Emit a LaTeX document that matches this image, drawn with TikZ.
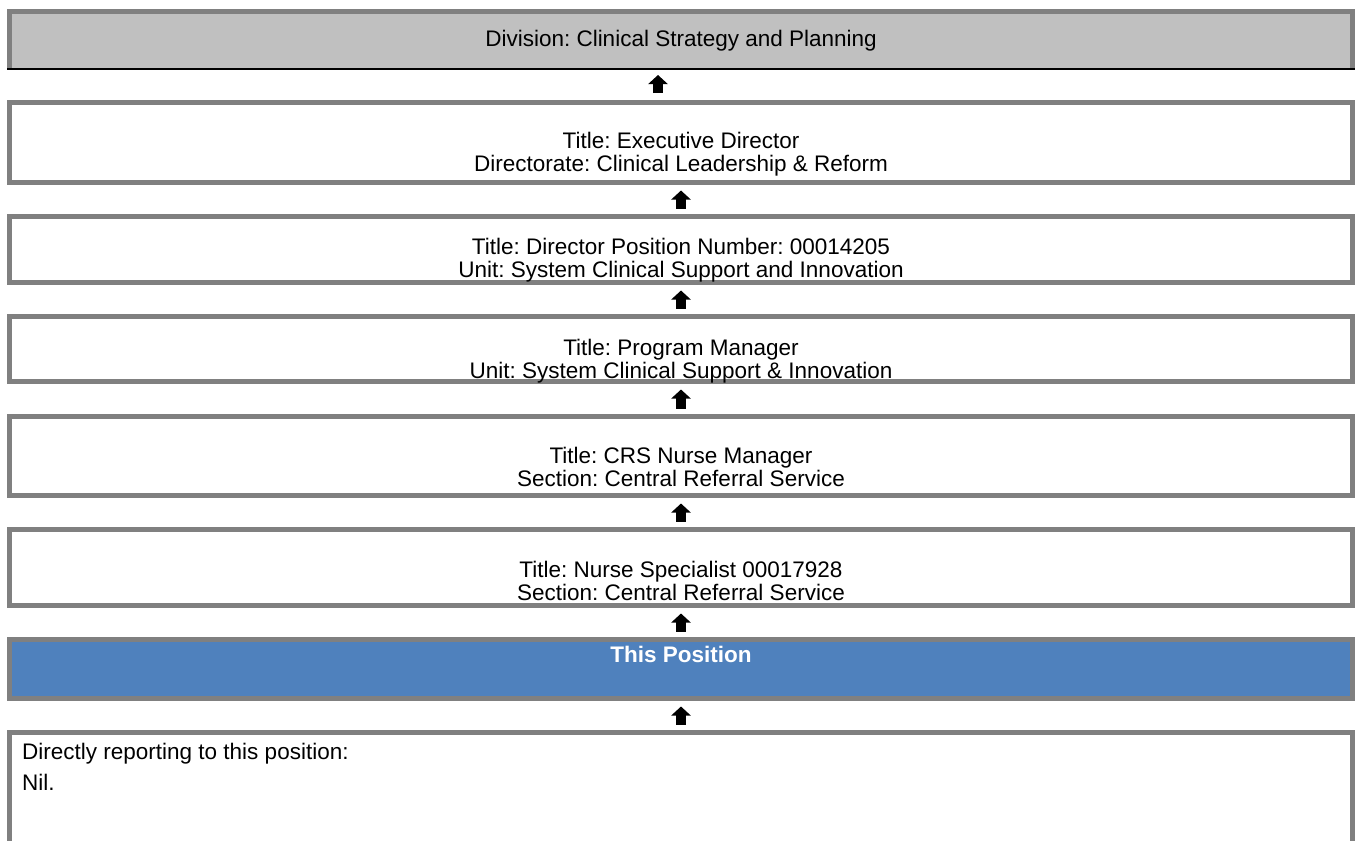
\documentclass[tikz,border=0pt]{standalone}
\usepackage{fontspec}
\setmainfont{Liberation Sans}
\usetikzlibrary{arrows.meta}
\definecolor{FrameGray}{HTML}{808080}
\definecolor{HeadGray}{HTML}{C0C0C0}
\definecolor{PosBlue}{HTML}{4F81BD}

\begin{document}
\frenchspacing
\begin{tikzpicture}[
  x=1pt, y=-1pt,
  box/.style={rectangle, draw=FrameGray, line width=5pt, fill=white,
    minimum width=1343pt, inner sep=0pt},
  txt/.style={align=center, font=\fontsize{22.5}{22.5}\selectfont, inner sep=0pt},
  uparr/.style={-{Triangle[width=19pt, length=9pt]}, line width=9.5pt,
    shorten <=5.5pt, shorten >=5.5pt}
]
  \clip (0,0) rectangle (1358,841);

  % division header: grey sides, black rule underneath
  \node[rectangle, fill=HeadGray, minimum width=1343pt, minimum height=57.5pt,
    inner sep=0pt, outer sep=0pt] (div) at (681,40.25) {};
  \draw[FrameGray, line width=5pt] (div.south west) -- (div.north west)
    -- (div.north east) -- (div.south east);
  \draw[black, line width=2pt] ([xshift=-2.5pt]div.south west) -- ([xshift=2.5pt]div.south east);
  \node[txt] (divtxt) at (681,41) {Division: Clinical Strategy and Planning};

  % reporting line
  \node[box, minimum height=80pt] (exec) at (681,142.5) {};
  \node[txt] (exectxt) at (681,154) {Title: Executive Director\\Directorate: Clinical Leadership \& Reform};

  \node[box, minimum height=66pt] (dir) at (681,249.5) {};
  \node[txt] (dirtxt) at (681,260) {Title: Director Position Number: 00014205\\Unit: System Clinical Support and Innovation};

  \node[box, minimum height=65pt] (pm) at (681,349) {};
  \node[txt] (pmtxt) at (681,361) {Title: Program Manager\\Unit: System Clinical Support \& Innovation};

  \node[box, minimum height=79pt] (crs) at (681,456) {};
  \node[txt] (crstxt) at (681,467) {Title: CRS Nurse Manager\\Section: Central Referral Service};

  \node[box, minimum height=76pt] (spec) at (681,567.5) {};
  \node[txt] (spectxt) at (681,581) {Title: Nurse Specialist 00017928\\Section: Central Referral Service};

  \node[box, fill=PosBlue, minimum height=59pt] (pos) at (681,669) {};
  \node[txt, text=white, font=\fontsize{22.5}{22.5}\selectfont\bfseries] (postxt) at (681,654) {This Position};

  % direct reports
  \node[box, minimum height=167.5pt] (reports) at (681,816.25) {};
  \node[txt, align=left, anchor=north west] (reptxt) at (22,743)
    {Directly reporting to this position:\\[8pt]Nil.};

  % arrows up the chain
  \draw[uparr, shorten <=7pt, shorten >=6pt] ([xshift=-23pt]exec.north) -- ([xshift=-23pt]div.south);
  \draw[uparr] (dir.north) -- (exec.south);
  \draw[uparr] (pm.north) -- (dir.south);
  \draw[uparr] (crs.north) -- (pm.south);
  \draw[uparr] (spec.north) -- (crs.south);
  \draw[uparr] (pos.north) -- (spec.south);
  \draw[uparr] (reports.north) -- (pos.south);
\end{tikzpicture}
\end{document}
